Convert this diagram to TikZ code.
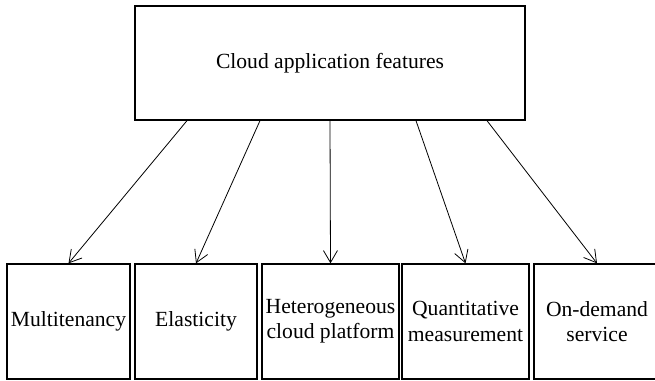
\documentclass[tikz,border=0pt]{standalone}
\usepackage{fontspec}
\setmainfont{Liberation Serif}
\usetikzlibrary{arrows.meta}
\tikzstyle{featbox} = [draw=black, line width=0.65pt, rectangle, align=center,
minimum height=57.5pt, inner sep=1pt, font=\fontsize{10.8}{12.6}\selectfont]
\tikzstyle{featarrow} = [-{Straight Barb[length=6pt,width=7pt]}, line width=0.4pt]

\begin{document}
\begin{tikzpicture}[x=0.5pt, y=-0.5pt]
    \useasboundingbox (0,0) rectangle (655,381);
    \node [featbox, minimum width=195pt, minimum height=57pt] (cloud) at (330,63)
        {Cloud application features};
    \node [featbox, minimum width=61.5pt] (multi) at (68.5,321.5) {Multitenancy};
    \node [featbox, minimum width=61pt] (elastic) at (196,321.5) {Elasticity};
    \node [featbox, minimum width=68.5pt] (hetero) at (330.5,321.5)
        {Heterogeneous\\cloud platform};
    \node [featbox, minimum width=63.5pt] (quant) at (465.5,321.5)
        {Quantitative\\measurement};
    \node [featbox, minimum width=63pt] (demand) at (597,321.5)
        {On-demand\\service};
    \draw [featarrow] ([xshift=-71.5pt]cloud.south) -- (multi.north);
    \draw [featarrow] ([xshift=-35pt]cloud.south) -- (elastic.north);
    \draw [featarrow] (cloud.south) -- (hetero.north);
    \draw [featarrow] ([xshift=43pt]cloud.south) -- (quant.north);
    \draw [featarrow] ([xshift=78.5pt]cloud.south) -- (demand.north);
\end{tikzpicture}
\end{document}
